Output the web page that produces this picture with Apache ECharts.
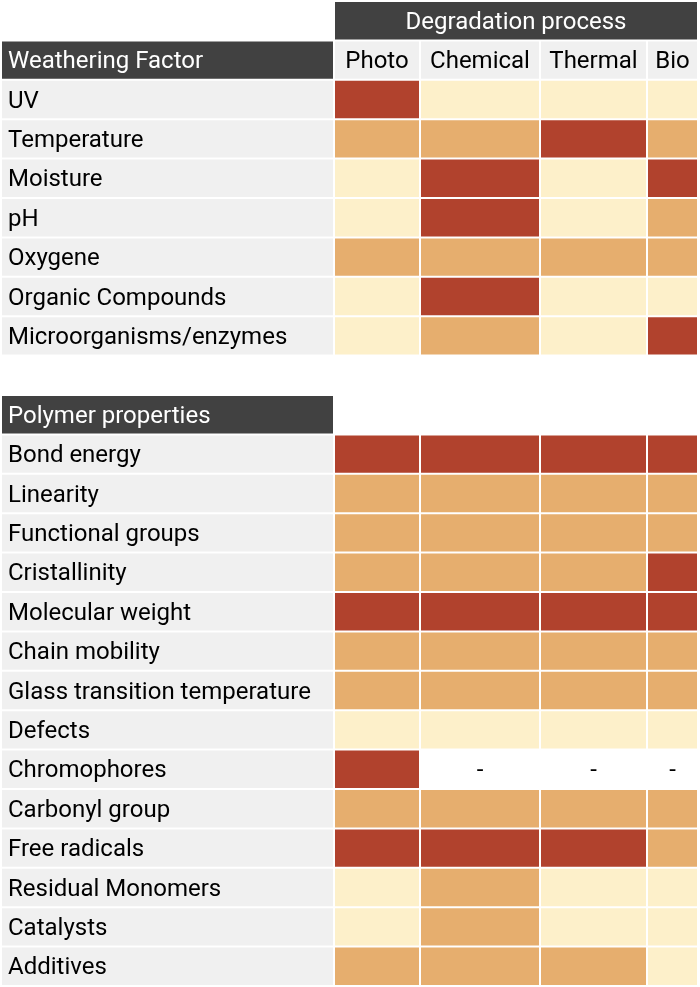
<!DOCTYPE html>
<html>
<head>
<meta charset="utf-8">
<script src="https://cdn.jsdelivr.net/npm/echarts@6/dist/echarts.min.js"></script>
<style>
html,body{margin:0;padding:0;background:#fff;}
#chart{width:700px;height:987px;}
</style>
</head>
<body>
<div id="chart"></div>
<script>
// ---- data ----
const processGroupTitle = 'Degradation process';
const processes = ['Photo', 'Chemical', 'Thermal', 'Bio'];

const weatheringTitle = 'Weathering Factor';
const weatheringFactors = ['UV', 'Temperature', 'Moisture', 'pH', 'Oxygene', 'Organic Compounds', 'Microorganisms/enzymes'];
// levels: 0 = low, 1 = medium, 2 = high, null = not applicable
const weatheringPhoto    = [2, 1, 0, 0, 1, 0, 0];
const weatheringChemical = [0, 1, 2, 2, 1, 2, 1];
const weatheringThermal  = [0, 2, 0, 0, 1, 0, 0];
const weatheringBio      = [0, 1, 2, 1, 1, 0, 2];

const polymerTitle = 'Polymer properties';
const polymerProperties = ['Bond energy', 'Linearity', 'Functional groups', 'Cristallinity', 'Molecular weight', 'Chain mobility', 'Glass transition temperature', 'Defects', 'Chromophores', 'Carbonyl group', 'Free radicals', 'Residual Monomers', 'Catalysts', 'Additives'];
const polymerPhoto    = [2, 1, 1, 1, 2, 1, 1, 0, 2,    1, 2, 0, 0, 1];
const polymerChemical = [2, 1, 1, 1, 2, 1, 1, 0, null, 1, 2, 1, 1, 1];
const polymerThermal  = [2, 1, 1, 1, 2, 1, 1, 0, null, 1, 2, 0, 0, 1];
const polymerBio      = [2, 1, 1, 2, 2, 1, 1, 0, null, 1, 1, 0, 0, 0];

// ---- layout / style (not data) ----
const colEdges = [2, 335, 421, 541, 648, 699]; // label column + 4 process columns
const levelColors = ['#FDF0CA', '#E6AE6E', '#B1422D'];
const labelBg = '#F0F0F0';
const headerBg = '#414141';
const FONT = 'Roboto, "Noto Sans", sans-serif';
const FS = 24;

const weatheringCols = [weatheringPhoto, weatheringChemical, weatheringThermal, weatheringBio];
const polymerCols = [polymerPhoto, polymerChemical, polymerThermal, polymerBio];

// build cells
const cells = [];
let row = 0;
cells.push({ x0: colEdges[1], x1: colEdges[5], row: row, fill: headerBg, text: processGroupTitle, color: '#fff', align: 'center' });
row++;
cells.push({ x0: colEdges[0], x1: colEdges[1], row: row, fill: headerBg, text: weatheringTitle, color: '#fff', align: 'left' });
processes.forEach((p, j) => cells.push({ x0: colEdges[j + 1], x1: colEdges[j + 2], row: row, fill: labelBg, text: p, color: '#000', align: 'center' }));
row++;
function addBlock(labels, cols) {
  labels.forEach((lab, i) => {
    cells.push({ x0: colEdges[0], x1: colEdges[1], row: row, fill: labelBg, text: lab, color: '#000', align: 'left' });
    cols.forEach((col, j) => {
      const v = col[i];
      if (v === null || v === undefined) {
        cells.push({ x0: colEdges[j + 1], x1: colEdges[j + 2], row: row, fill: '#ffffff', text: '-', color: '#000', align: 'center' });
      } else {
        cells.push({ x0: colEdges[j + 1], x1: colEdges[j + 2], row: row, fill: levelColors[v], text: '', value: v });
      }
    });
    row++;
  });
}
addBlock(weatheringFactors, weatheringCols);
row++; // blank spacer row
cells.push({ x0: colEdges[0], x1: colEdges[1], row: row, fill: headerBg, text: polymerTitle, color: '#fff', align: 'left' });
row++;
addBlock(polymerProperties, polymerCols);
const totalRows = row;

const chart = echarts.init(document.getElementById('chart'), null, { renderer: 'canvas' });
chart.setOption({
  animation: false,
  backgroundColor: '#ffffff',
  grid: { left: 0, right: 0, top: 2, bottom: 0 },
  xAxis: { type: 'value', min: 0, max: 700, show: false },
  yAxis: { type: 'value', min: 0, max: totalRows, inverse: true, show: false },
  series: [{
    type: 'custom',
    data: cells.map(c => [c.x0, c.x1, c.row, c.row + 1]),
    encode: { x: [0, 1], y: [2, 3] },
    renderItem: function (params, api) {
      const c = cells[params.dataIndex];
      const p0 = api.coord([api.value(0), api.value(2)]);
      const p1 = api.coord([api.value(1), api.value(3)]);
      const x = p0[0], y = p0[1];
      const w = p1[0] - p0[0] - 2, h = p1[1] - p0[1] - 2;
      const children = [{
        type: 'rect',
        shape: { x: x, y: y, width: w, height: h },
        style: { fill: c.fill }
      }];
      if (c.text) {
        children.push({
          type: 'text',
          style: {
            text: c.text,
            x: c.align === 'center' ? x + w / 2 : x + 6,
            y: y + h / 2 + 2,
            align: c.align,
            verticalAlign: 'middle',
            fill: c.color,
            font: FS + 'px ' + FONT
          }
        });
      }
      return { type: 'group', children: children };
    }
  }]
});
</script>
</body>
</html>
